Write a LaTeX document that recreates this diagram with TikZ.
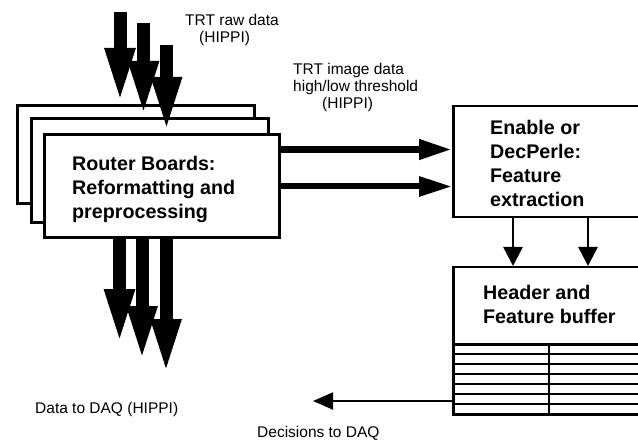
\documentclass[tikz,border=0pt]{standalone}
\usepackage{fontspec}
\setmainfont{Liberation Sans}
\usetikzlibrary{arrows.meta}
\begin{document}
\begin{tikzpicture}[x=1pt,y=-1pt,
  board/.style={draw, fill=white, line width=3pt, anchor=north west, inner sep=0pt},
  unitbox/.style={draw, fill=white, line width=2.5pt, anchor=north west, inner sep=0pt},
  boxtext/.style={anchor=north west, inner sep=0pt, align=left, font=\fontsize{19.7}{24}\selectfont\bfseries},
  lbl/.style={anchor=north west, inner sep=0pt, align=left, font=\fontsize{15.5}{17}\selectfont},
  bigarrow/.style={line width=13pt, -{Triangle[length=56pt,width=27pt]}},
  midarrow/.style={-{Triangle[length=33pt,width=19pt]}},
  smallarrow/.style={line width=2.5pt, -{Triangle[length=19pt,width=19pt]}},
  gridline/.style={line width=1.5pt},
]
\useasboundingbox (0,0) rectangle (638,441);
\clip (0,0) rectangle (638,441);

% router boards (stacked)
\node[board, minimum width=237pt, minimum height=98pt] (back) at (16,104) {};
\node[board, minimum width=237pt, minimum height=104pt] (middle) at (30,117) {};
\node[board, minimum width=235pt, minimum height=103pt] (front) at (43,133) {};
\node[boxtext] (routertext) at (72,156) {Router Boards:\\Reformatting and\\preprocessing};

% feature extraction
\node[unitbox, minimum width=200pt, minimum height=111pt] (enable) at (452,105) {};
\node[boxtext] (enabletext) at (490,120) {Enable or\\DecPerle:\\Feature\\extraction};

% header and feature buffer
\node[unitbox, minimum width=200pt, minimum height=147pt] (header) at (452,266) {};
\node[boxtext] (headertext) at (483,285) {Header and\\Feature buffer};
\draw[line width=3pt] (452,344) -- (645,344);
\foreach \yy in {354,364,374,384,394,404}
  \draw[gridline] (452,\yy) -- (645,\yy);
\draw[gridline] (549,344) -- (549,413);

% labels
\node[lbl] (rawlbl) at (185,14) {TRT raw data\\\hspace*{14pt}(HIPPI)};
\node[lbl] (imglbl) at (293,63) {TRT image data\\high/low threshold\\\hspace*{29pt}(HIPPI)};
\node[lbl] (daqlbl) at (35,402) {Data to DAQ (HIPPI)};
\node[lbl] (declbl) at (257,426) {Decisions to DAQ};

% input arrows
\coordinate (in1) at (120,12);
\coordinate (in2) at (143.5,23);
\coordinate (in3) at (166.5,45);
\draw[bigarrow] (in1) -- (in1 |- back.north);
\draw[bigarrow] (in2) -- (in2 |- middle.north);
\draw[bigarrow] (in3) -- (in3 |- front.north);

% output arrows
\coordinate (out1) at (119.5,345);
\coordinate (out2) at (142,362);
\coordinate (out3) at (166,375);
\draw[bigarrow] (out1 |- front.south) -- (out1);
\draw[bigarrow] (out2 |- front.south) -- (out2);
\draw[bigarrow] (out3 |- front.south) -- (out3);

% image data arrows
\coordinate (h1) at (300,149.5);
\coordinate (h2) at (300,186.5);
\draw[line width=7pt, midarrow] (front.east |- h1) -- (enable.west |- h1);
\draw[line width=6pt, midarrow] (front.east |- h2) -- (enable.west |- h2);

% feature arrows
\coordinate (d1) at (513,240);
\coordinate (d2) at (588,240);
\draw[smallarrow] (d1 |- enable.south) -- (d1 |- header.north);
\draw[smallarrow] (d2 |- enable.south) -- (d2 |- header.north);

% decisions
\coordinate (dec) at (313,401);
\draw[line width=2pt, -{Triangle[length=20pt,width=17pt]}] (header.west |- dec) -- (dec);
\end{tikzpicture}
\end{document}
